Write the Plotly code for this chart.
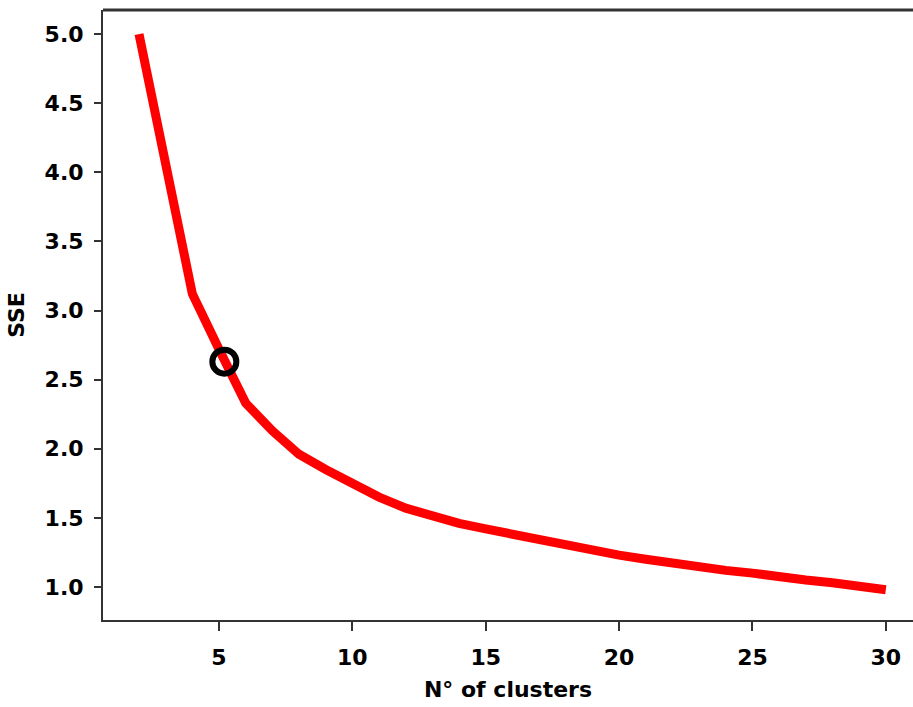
import plotly.graph_objects as go

clusters = list(range(2, 31))
sse = [5.00, 4.06, 3.12, 2.72, 2.33, 2.13, 1.96, 1.85, 1.75, 1.65, 1.57, 1.51,
       1.46, 1.42, 1.38, 1.34, 1.30, 1.26, 1.23, 1.20, 1.17, 1.14, 1.12, 1.10,
       1.07, 1.05, 1.03, 1.01, 0.98]
elbow_x = [5.2]
elbow_y = [2.63]
x_ticks = [5, 10, 15, 20, 25, 30]
y_ticks = [1.0, 1.5, 2.0, 2.5, 3.0, 3.5, 4.0, 4.5, 5.0]

font = dict(family="DejaVu Sans", size=22, color="black", weight="bold")

fig = go.Figure()
fig.add_trace(go.Scatter(x=clusters, y=sse, mode="lines",
                         line=dict(color="#ff0000", width=9), showlegend=False))
fig.add_trace(go.Scatter(x=elbow_x, y=elbow_y, mode="markers",
                         marker=dict(symbol="circle-open", size=24, color="black",
                                     line=dict(width=6, color="black")),
                         showlegend=False))

fig.update_layout(
    width=913, height=707,
    margin=dict(l=103, r=0, t=10, b=87),
    plot_bgcolor="white", paper_bgcolor="white",
    font=font,
    shapes=[dict(type="line", xref="paper", yref="paper", x0=0, x1=1, y0=1, y1=1,
                 line=dict(color="#333333", width=3))],
)
fig.update_xaxes(
    range=[0.65, 31.02], tickvals=x_ticks, ticktext=[str(v) for v in x_ticks],
    showgrid=False, zeroline=False,
    showline=True, linecolor="#333333", linewidth=2, mirror=False,
    ticks="outside", ticklen=9, tickwidth=2, tickcolor="#333333",
    ticklabelstandoff=8,
    title=dict(text="N° of clusters", font=font, standoff=12),
)
fig.update_yaxes(
    range=[0.761, 5.174], tickvals=y_ticks, ticktext=[f"{v:.1f}" for v in y_ticks],
    showgrid=False, zeroline=False, mirror=False,
    showline=True, linecolor="#333333", linewidth=2,
    ticks="outside", ticklen=7, tickwidth=2, tickcolor="#333333",
    ticklabelstandoff=6,
    title=dict(text="SSE", font=font, standoff=14),
)
fig.write_html("out.html")
